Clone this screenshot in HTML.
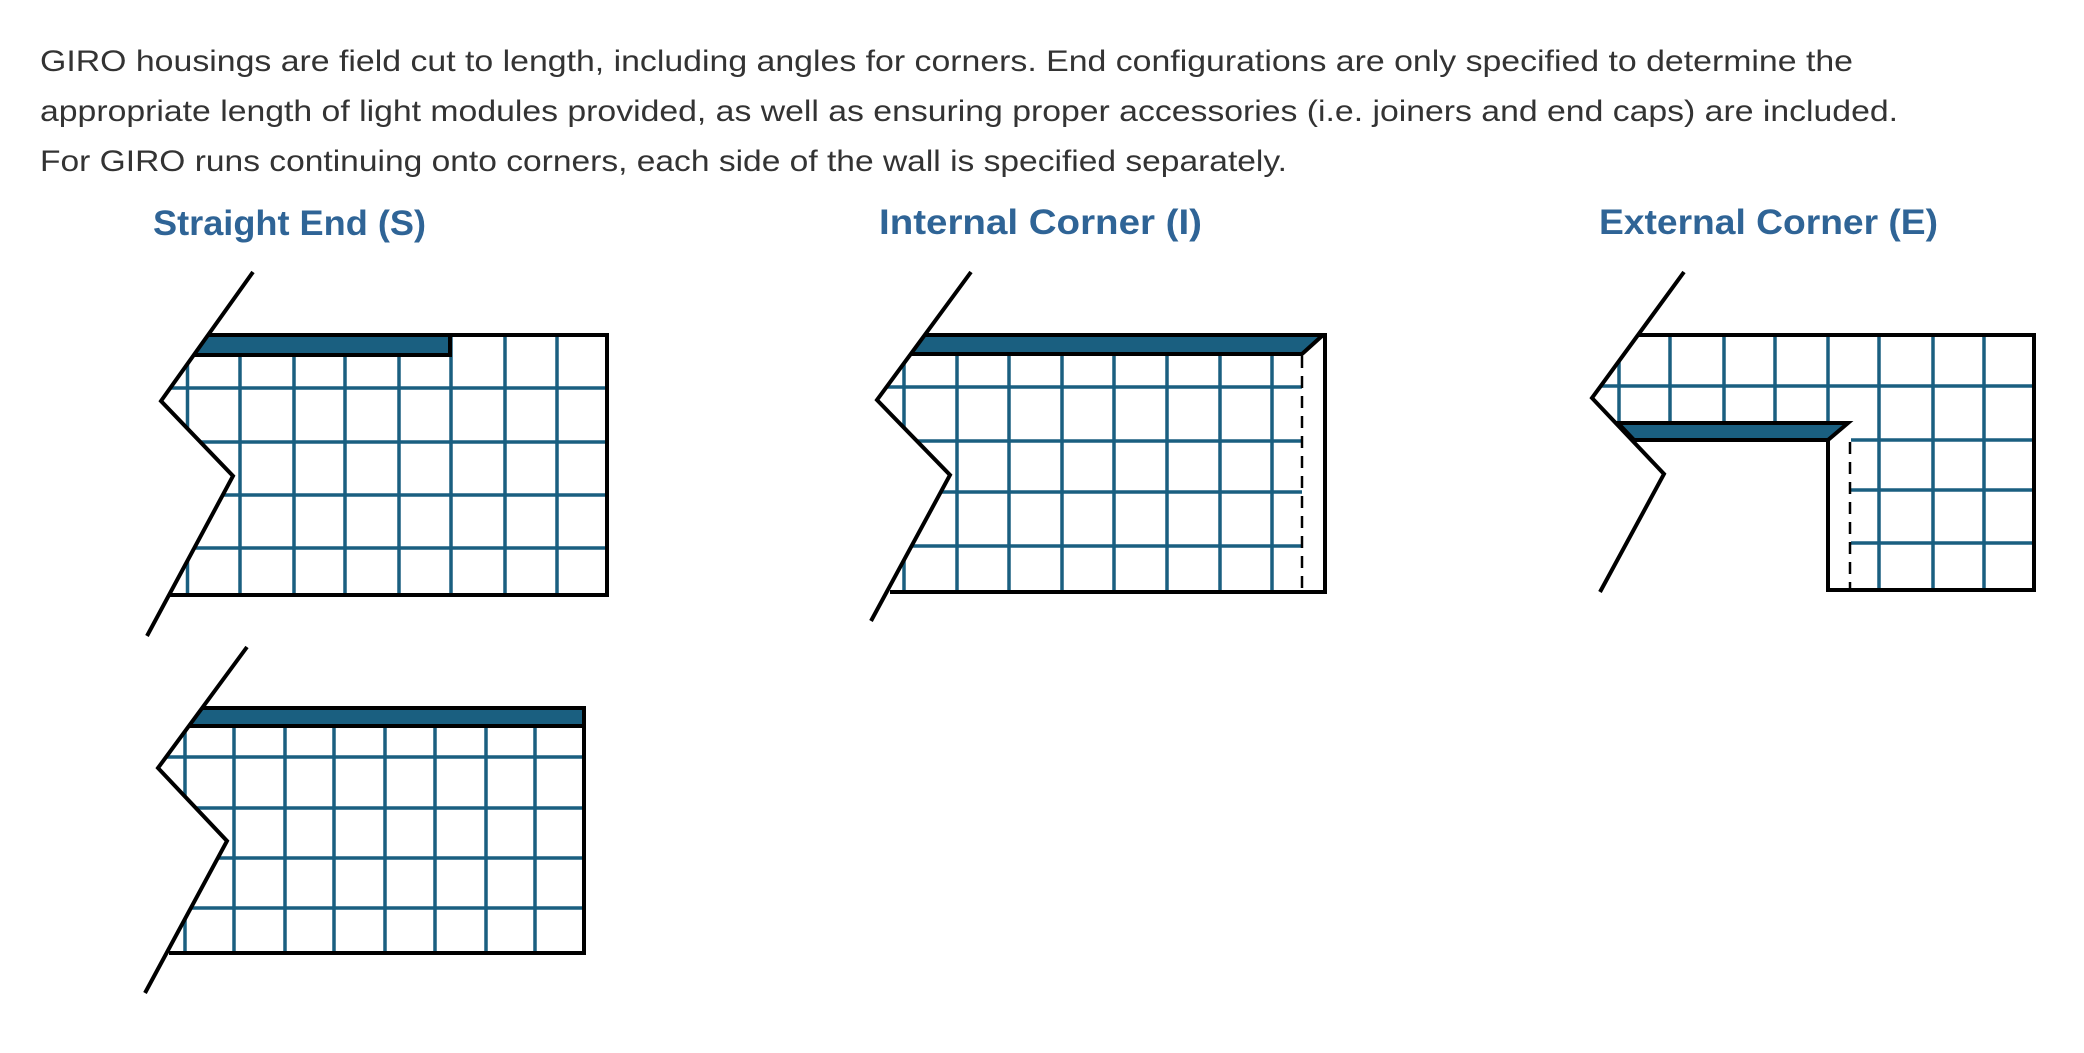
<!DOCTYPE html>
<html><head><meta charset="utf-8"><style>
html,body{margin:0;padding:0;background:#fff;width:2084px;height:1053px;overflow:hidden}
svg{display:block}
</style></head><body>
<svg width="2084" height="1053" viewBox="0 0 2084 1053" xmlns="http://www.w3.org/2000/svg">
<defs>
<clipPath id="c1"><polygon points="253,272 161,401 233,476 147,636 607,636 607,272"/></clipPath>
<clipPath id="c2"><polygon points="247,647 158,768 227,841 145,993 584,993 584,647"/></clipPath>
<clipPath id="c3"><polygon points="971,272 877,400 950,475 871,621 1327,621 1327,272"/></clipPath>
<clipPath id="c4"><polygon points="1684,272 1592,398 1664,474 1600,592 2034,592 2034,272"/></clipPath>
</defs>
<g font-family="Liberation Sans, sans-serif" fill="#333">
<text x="40" y="71" font-size="30" textLength="1813" lengthAdjust="spacingAndGlyphs">GIRO housings are field cut to length, including angles for corners. End configurations are only specified to determine the</text>
<text x="40" y="121" font-size="30" textLength="1858" lengthAdjust="spacingAndGlyphs">appropriate length of light modules provided, as well as ensuring proper accessories (i.e. joiners and end caps) are included.</text>
<text x="40" y="171" font-size="30" textLength="1247" lengthAdjust="spacingAndGlyphs">For GIRO runs continuing onto corners, each side of the wall is specified separately.</text>
</g>
<g font-family="Liberation Sans, sans-serif" font-weight="bold" font-size="35" fill="#2f6496">
<text x="153" y="235" textLength="273" lengthAdjust="spacingAndGlyphs">Straight End (S)</text>
<text x="879" y="234" textLength="323" lengthAdjust="spacingAndGlyphs">Internal Corner (I)</text>
<text x="1599" y="234" textLength="339" lengthAdjust="spacingAndGlyphs">External Corner (E)</text>
</g>

<!-- Diagram 1 -->
<g clip-path="url(#c1)" stroke="#1a5f80" stroke-width="3.5">
<path d="M187.5,355V595M240,355V595M294,355V595M345,355V595M399,355V595M451,335V595M505,335V595M557,335V595"/>
<path d="M140,388H607M140,442H607M140,495H607M140,548H607"/>
</g>
<g clip-path="url(#c1)">
<rect x="150" y="335" width="300" height="20" fill="#1a5f80" stroke="#000" stroke-width="4"/>
</g>
<g fill="none" stroke="#000" stroke-width="4">
<path d="M207,335H607V595H170"/>
<polyline points="253,272 161,401 233,476 147,636"/>
</g>

<!-- Diagram 1b -->
<g clip-path="url(#c2)" stroke="#1a5f80" stroke-width="3.5">
<path d="M185,726V953M234,726V953M285,726V953M334,726V953M385,726V953M435,726V953M486,726V953M535,726V953"/>
<path d="M140,757H584M140,808H584M140,858H584M140,908H584"/>
</g>
<g clip-path="url(#c2)">
<rect x="150" y="708" width="434" height="18" fill="#1a5f80" stroke="#000" stroke-width="4"/>
</g>
<g fill="none" stroke="#000" stroke-width="4">
<path d="M202,708H584V953H169"/>
<polyline points="247,647 158,768 227,841 145,993"/>
</g>

<!-- Diagram 2 Internal -->
<g clip-path="url(#c3)" stroke="#1a5f80" stroke-width="3.5">
<path d="M904,354V592M957,354V592M1009,354V592M1062,354V592M1114,354V592M1167,354V592M1220,354V592M1272,354V592"/>
<path d="M860,387H1302M860,441H1302M860,492H1302M860,546H1302"/>
</g>
<g clip-path="url(#c3)">
<polygon points="900,335 1323,335 1302,354 880,354" fill="#1a5f80" stroke="#000" stroke-width="4"/>
</g>
<g fill="none" stroke="#000" stroke-width="4">
<path d="M925,335H1325V592H890"/>
<polyline points="971,272 877,400 950,475 871,621"/>
</g>
<path d="M1302,356V592" stroke="#000" stroke-width="2.5" stroke-dasharray="12,8" fill="none"/>

<!-- Diagram 3 External -->
<g clip-path="url(#c4)" stroke="#1a5f80" stroke-width="3.5">
<path d="M1619,335V423M1670,335V423M1724,335V423M1775,335V423M1828,335V423M1879,335V590M1933,335V590M1984,335V590"/>
<path d="M1580,386H2034M1851,440H2034M1851,490H2034M1851,543H2034"/>
</g>
<polygon points="1618,423 1848,423 1828,440 1634,440" fill="#1a5f80" stroke="#000" stroke-width="4"/>
<g fill="none" stroke="#000" stroke-width="4">
<path d="M1638,335H2034V590H1828V440"/>
<polyline points="1684,272 1592,398 1664,474 1600,592"/>
</g>
<path d="M1850,442V590" stroke="#000" stroke-width="2.5" stroke-dasharray="12,8" fill="none"/>
</svg>
</body></html>
